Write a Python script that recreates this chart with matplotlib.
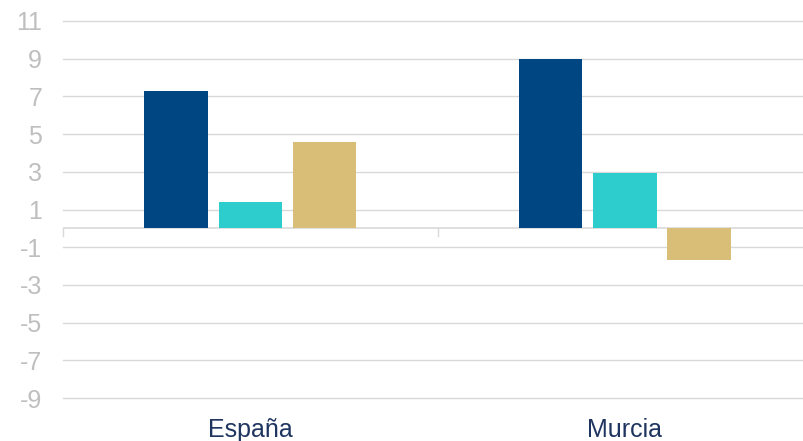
import matplotlib.pyplot as plt
import matplotlib.transforms as mtransforms
import numpy as np

# Datos
categorias = ["España", "Murcia"]
serie_1 = [7.3, 9.0]
serie_2 = [1.4, 2.95]
serie_3 = [4.6, -1.7]
ticks_y = [-9, -7, -5, -3, -1, 1, 3, 5, 7, 9, 11]

colores = ["#004683", "#2dcdcd", "#d9be78"]

plt.rcParams['font.family'] = ['Liberation Sans', 'DejaVu Sans']

fig = plt.figure(figsize=(8.04, 4.41), dpi=100)
ax = fig.add_axes([63 / 804, 43 / 441, 1 - 63 / 804, 377 / 441])

x = np.arange(len(categorias))
ancho = 0.169
paso = 0.198
for i, (vals, col) in enumerate(zip([serie_1, serie_2, serie_3], colores)):
    ax.bar(x + (i - 1) * paso, vals, width=ancho, color=col, zorder=3)

ax.set_ylim(-9, 11)
ax.set_xlim(-0.5, 1.478)
ax.set_yticks(ticks_y)
ax.set_yticklabels([str(t) for t in ticks_y], color="#bfbfbf", fontsize=18)
ax.yaxis.grid(True, color="#d9d9d9", linewidth=1.0, zorder=0)
for gl in ax.get_ygridlines():
    gl.set_clip_on(False)
ax.tick_params(axis='y', length=0, pad=15)

# eje en cero con marcas entre categorías
ax.axhline(0, color="#d9d9d9", linewidth=1.2, zorder=2)
ax.set_xticks([])
for xt in [-0.5, 0.5]:
    ax.plot([xt, xt], [0, -0.38], color="#d9d9d9", linewidth=1.0, zorder=2, clip_on=False)

# etiquetas de categorías bajo el gráfico
tr = mtransforms.blended_transform_factory(ax.transData, ax.transAxes)
for xi, nombre in zip(x, categorias):
    ax.text(xi, -0.085, nombre, transform=tr,
            ha='center', va='center', fontsize=18, color="#1f3560")

for s in ax.spines.values():
    s.set_visible(False)

fig.savefig("out.png", dpi=100)
